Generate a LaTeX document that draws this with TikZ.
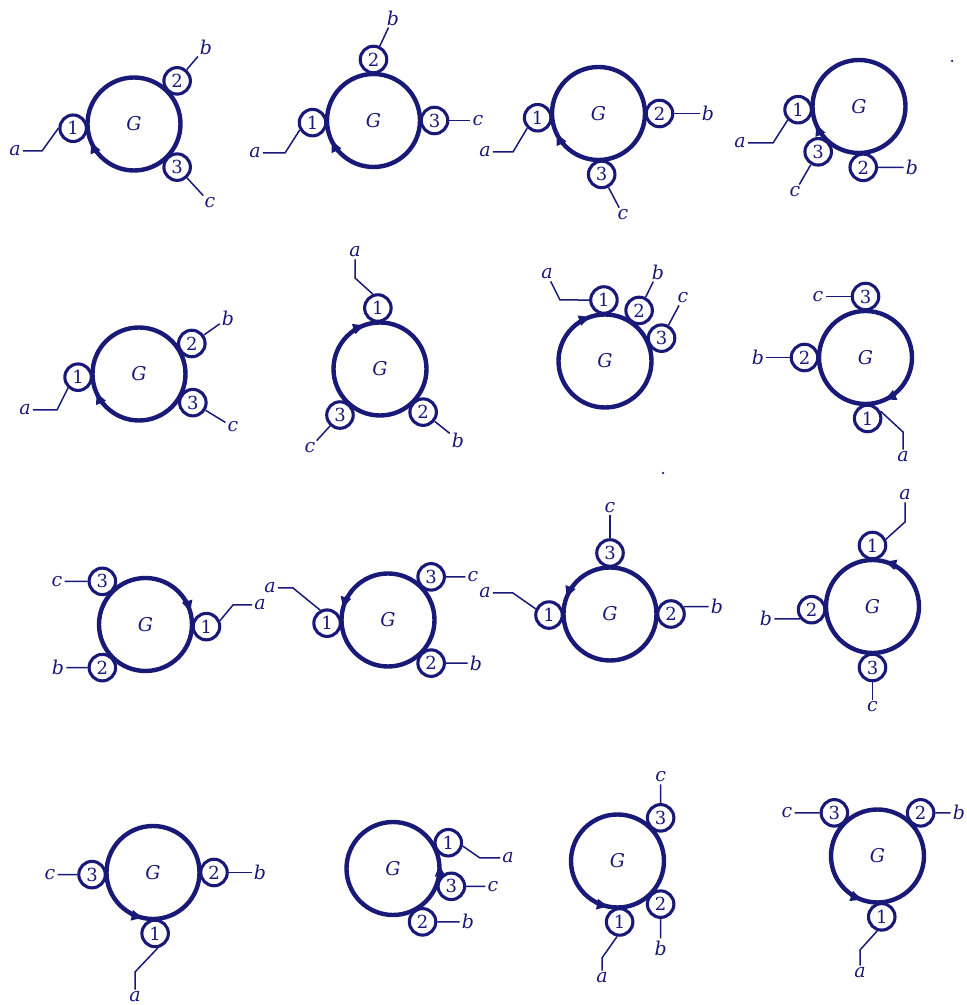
\documentclass[tikz,border=0pt]{standalone}
\usepackage{fontspec}
\setmainfont{DejaVu Serif}
\usetikzlibrary{arrows.meta}
\definecolor{ink}{RGB}{25,25,120}
\tikzset{
  bigc/.style={circle, draw=ink, line width=4.4pt, minimum size=93pt, inner sep=0pt, text=ink, font=\fontsize{19}{21}\selectfont\itshape},
  smallc/.style={circle, draw=ink, line width=3.1pt, fill=white, minimum size=26.5pt, inner sep=0pt, text=ink, font=\fontsize{18}{20}\selectfont},
  lead/.style={draw=ink, line width=1.5pt},
  lbl/.style={inner sep=2pt, text=ink, font=\fontsize{19}{21}\selectfont\itshape},
  orient/.style={draw=ink, line width=4.4pt, -{Triangle[length=11pt,width=10pt]}},
  speck/.style={circle, fill=ink, inner sep=0pt, minimum size=2.5pt},
}
\begin{document}
\begin{tikzpicture}[x=1pt,y=1pt]
\useasboundingbox (0,0) rectangle (967,1005);

% ---------- Panel 1
\node[bigc] (p1) at (134,881) {G};
\draw[orient] ([shift={(218:46.5)}]p1.center) arc[start angle=218,end angle=203,radius=46.5];
\node[smallc] (p1n1) at ([shift={(184:61)}]p1.center) {1};
\node[smallc] (p1n2) at ([shift={(45:61)}]p1.center) {2};
\node[smallc] (p1n3) at ([shift={(-45:61)}]p1.center) {3};
\node[lbl] (p1a) at (15,854) {a};
\node[lbl] (p1b) at (206,958) {b};
\node[lbl] (p1c) at (210,802) {c};
\coordinate (p1w) at (42,854);
\draw[lead] (p1n1.180) -- (p1w) -- (p1a);
\draw[lead] (p1n2) -- (p1b);
\draw[lead] (p1n3) -- (p1c);

% ---------- Panel 2
\node[bigc] (p2) at (373.5,884.5) {G};
\draw[orient] ([shift={(221:46.5)}]p2.center) arc[start angle=221,end angle=206,radius=46.5];
\node[smallc] (p2n1) at ([shift={(182:61)}]p2.center) {1};
\node[smallc] (p2n2) at ([shift={(90:61)}]p2.center) {2};
\node[smallc] (p2n3) at ([shift={(0:61)}]p2.center) {3};
\node[lbl] (p2a) at (255,852) {a};
\node[lbl] (p2b) at (393,987) {b};
\node[lbl] (p2c) at (478,884.5) {c};
\coordinate (p2w) at (285,852);
\draw[lead] (p2n1.210) -- (p2w) -- (p2a);
\draw[lead] (p2n2) -- (p2b);
\draw[lead] (p2n3) -- (p2c);

% ---------- Panel 3
\node[bigc] (p3) at (598.5,891.5) {G};
\draw[orient] ([shift={(221:46.5)}]p3.center) arc[start angle=221,end angle=206,radius=46.5];
\node[smallc] (p3n1) at ([shift={(184:61)}]p3.center) {1};
\node[smallc] (p3n2) at ([shift={(0:61)}]p3.center) {2};
\node[smallc] (p3n3) at ([shift={(-87:61)}]p3.center) {3};
\node[lbl] (p3a) at (485,853) {a};
\node[lbl] (p3b) at (708,891.5) {b};
\node[lbl] (p3c) at (623,790) {c};
\coordinate (p3w) at (513,853);
\draw[lead] (p3n1.225) -- (p3w) -- (p3a);
\draw[lead] (p3n2) -- (p3b);
\draw[lead] (p3n3) -- (p3c);

% ---------- Panel 4
\node[bigc] (p4) at (859,898.5) {G};
\draw[orient] ([shift={(217:46.5)}]p4.center) arc[start angle=217,end angle=203,radius=46.5];
\node[smallc] (p4n1) at ([shift={(183:61)}]p4.center) {1};
\node[smallc] (p4n3) at ([shift={(228:61)}]p4.center) {3};
\node[smallc] (p4n2) at ([shift={(-86:61)}]p4.center) {2};
\node[lbl] (p4a) at (740,862) {a};
\node[lbl] (p4b) at (912,837.6) {b};
\node[lbl] (p4c) at (795,813) {c};
\coordinate (p4w) at (773,862);
\draw[lead] (p4n1.225) -- (p4w) -- (p4a);
\draw[lead] (p4n2) -- (p4b);
\draw[lead] (p4n3) -- (p4c);
\node[speck] (s1) at (952,944) {};

% ---------- Panel 5
\node[bigc] (p5) at (139,631) {G};
\draw[orient] ([shift={(219:46.5)}]p5.center) arc[start angle=219,end angle=204,radius=46.5];
\node[smallc] (p5n1) at ([shift={(183:61)}]p5.center) {1};
\node[smallc] (p5n2) at ([shift={(30:61)}]p5.center) {2};
\node[smallc] (p5n3) at ([shift={(-28:61)}]p5.center) {3};
\node[lbl] (p5a) at (25,595) {a};
\node[lbl] (p5b) at (228,687) {b};
\node[lbl] (p5c) at (233,578) {c};
\coordinate (p5w) at (57,595);
\draw[lead] (p5n1.227) -- (p5w) -- (p5a);
\draw[lead] (p5n2) -- (p5b);
\draw[lead] (p5n3) -- (p5c);

% ---------- Panel 6
\node[bigc] (p6) at (380,636) {G};
\draw[orient] ([shift={(125:46.5)}]p6.center) arc[start angle=125,end angle=110,radius=46.5];
\node[smallc] (p6n1) at ([shift={(92:61)}]p6.center) {1};
\node[smallc] (p6n3) at ([shift={(229:61)}]p6.center) {3};
\node[smallc] (p6n2) at ([shift={(-45:61)}]p6.center) {2};
\node[lbl] (p6a) at (355,753) {a};
\node[lbl] (p6b) at (458,565) {b};
\node[lbl] (p6c) at (310,557) {c};
\coordinate (p6w) at (355,727);
\draw[lead] (p6n1.110) -- (p6w) -- (p6a);
\draw[lead] (p6n2) -- (p6b);
\draw[lead] (p6n3) -- (p6c);

% ---------- Panel 7
\node[bigc] (p7) at (605,644) {G};
\draw[orient] ([shift={(124:46.5)}]p7.center) arc[start angle=124,end angle=109,radius=46.5];
\node[smallc] (p7n1) at ([shift={(91:61)}]p7.center) {1};
\node[smallc] (p7n2) at ([shift={(56:61)}]p7.center) {2};
\node[smallc] (p7n3) at ([shift={(22:61)}]p7.center) {3};
\node[lbl] (p7a) at (547,731) {a};
\node[lbl] (p7b) at (658,733) {b};
\node[lbl] (p7c) at (683,707) {c};
\coordinate (p7w) at (560,705);
\draw[lead] (p7n1.west) -- (p7w) -- (p7a);
\draw[lead] (p7n2) -- (p7b);
\draw[lead] (p7n3) -- (p7c);

% ---------- Panel 8
\node[bigc] (p8) at (865.5,647.5) {G};
\draw[orient] ([shift={(-50:46.5)}]p8.center) arc[start angle=-50,end angle=-65,radius=46.5];
\node[smallc] (p8n3) at ([shift={(90:61)}]p8.center) {3};
\node[smallc] (p8n2) at ([shift={(180:61)}]p8.center) {2};
\node[smallc] (p8n1) at ([shift={(-88:61)}]p8.center) {1};
\node[lbl] (p8a) at (903,548) {a};
\node[lbl] (p8b) at (758,647.5) {b};
\node[lbl] (p8c) at (818,708.5) {c};
\coordinate (p8w) at (903,573);
\draw[lead] (p8n1.30) -- (p8w) -- (p8a);
\draw[lead] (p8n2) -- (p8b);
\draw[lead] (p8n3) -- (p8c);
\node[speck] (s2) at (663,532) {};

% ---------- Panel 9
\node[bigc] (p9) at (145.5,380.5) {G};
\draw[orient] ([shift={(31:46.5)}]p9.center) arc[start angle=31,end angle=16,radius=46.5];
\node[smallc] (p9n3) at ([shift={(135:61)}]p9.center) {3};
\node[smallc] (p9n2) at ([shift={(225:61)}]p9.center) {2};
\node[smallc] (p9n1) at ([shift={(-2:61)}]p9.center) {1};
\node[lbl] (p9a) at (260,400) {a};
\node[lbl] (p9b) at (58,337.4) {b};
\node[lbl] (p9c) at (57,423.6) {c};
\coordinate (p9w) at (233,400);
\draw[lead] (p9n1.24) -- (p9w) -- (p9a);
\draw[lead] (p9n2) -- (p9b);
\draw[lead] (p9n3) -- (p9c);

% ---------- Panel 10
\node[bigc] (p10) at (388,385) {G};
\draw[orient] ([shift={(150:46.5)}]p10.center) arc[start angle=150,end angle=165,radius=46.5];
\node[smallc] (p10n1) at ([shift={(183:61)}]p10.center) {1};
\node[smallc] (p10n3) at ([shift={(45:61)}]p10.center) {3};
\node[smallc] (p10n2) at ([shift={(-45:61)}]p10.center) {2};
\node[lbl] (p10a) at (270,417) {a};
\node[lbl] (p10b) at (476,341.9) {b};
\node[lbl] (p10c) at (473,428.1) {c};
\coordinate (p10w) at (293,417);
\draw[lead] (p10n1.118) -- (p10w) -- (p10a);
\draw[lead] (p10n2) -- (p10b);
\draw[lead] (p10n3) -- (p10c);

% ---------- Panel 11
\node[bigc] (p11) at (610,391) {G};
\draw[orient] ([shift={(144:46.5)}]p11.center) arc[start angle=144,end angle=159,radius=46.5];
\node[smallc] (p11n3) at ([shift={(90:61)}]p11.center) {3};
\node[smallc] (p11n1) at ([shift={(181:61)}]p11.center) {1};
\node[smallc] (p11n2) at ([shift={(0:61)}]p11.center) {2};
\node[lbl] (p11a) at (485,412) {a};
\node[lbl] (p11b) at (717,398.5) {b};
\node[lbl] (p11c) at (610,497) {c};
\coordinate (p11w) at (513,412);
\draw[lead] (p11n1.155) -- (p11w) -- (p11a);
\draw[lead] (p11n2.30) -- (p11b);
\draw[lead] (p11n3) -- (p11c);

% ---------- Panel 12
\node[bigc] (p12) at (872.5,398.5) {G};
\draw[orient] ([shift={(59:46.5)}]p12.center) arc[start angle=59,end angle=74,radius=46.5];
\node[smallc] (p12n1) at ([shift={(90:61)}]p12.center) {1};
\node[smallc] (p12n2) at ([shift={(183:61)}]p12.center) {2};
\node[smallc] (p12n3) at ([shift={(-90:61)}]p12.center) {3};
\node[lbl] (p12a) at (905,510) {a};
\node[lbl] (p12b) at (766,386.1) {b};
\node[lbl] (p12c) at (872.5,298) {c};
\coordinate (p12w) at (905,483);
\draw[lead] (p12n1.25) -- (p12w) -- (p12a);
\draw[lead] (p12n2.218) -- (p12b);
\draw[lead] (p12n3) -- (p12c);

% ---------- Panel 13
\node[bigc] (p13) at (153,132.5) {G};
\draw[orient] ([shift={(242:46.5)}]p13.center) arc[start angle=242,end angle=257,radius=46.5];
\node[smallc] (p13n3) at ([shift={(182:61)}]p13.center) {3};
\node[smallc] (p13n2) at ([shift={(0:61)}]p13.center) {2};
\node[smallc] (p13n1) at ([shift={(-88:61)}]p13.center) {1};
\node[lbl] (p13a) at (135,8) {a};
\node[lbl] (p13b) at (260,132.5) {b};
\node[lbl] (p13c) at (50,130.4) {c};
\coordinate (p13w) at (135,33);
\draw[lead] (p13n1.-80) -- (p13w) -- (p13a);
\draw[lead] (p13n2) -- (p13b);
\draw[lead] (p13n3) -- (p13c);

% ---------- Panel 14
\node[bigc] (p14) at (393,136.5) {G};
\draw[orient] ([shift={(-10:46.5)}]p14.center) arc[start angle=-10,end angle=4,radius=46.5];
\node[smallc] (p14n1) at ([shift={(25:61)}]p14.center) {1};
\node[smallc] (p14n3) at ([shift={(-17:61)}]p14.center) {3};
\node[smallc] (p14n2) at ([shift={(-61:61)}]p14.center) {2};
\node[lbl] (p14a) at (508,147) {a};
\node[lbl] (p14b) at (468,83.1) {b};
\node[lbl] (p14c) at (493,118.7) {c};
\coordinate (p14w) at (480,147);
\draw[lead] (p14n1.-13) -- (p14w) -- (p14a);
\draw[lead] (p14n2) -- (p14b);
\draw[lead] (p14n3) -- (p14c);

% ---------- Panel 15
\node[bigc] (p15) at (617.5,144) {G};
\draw[orient] ([shift={(243:46.5)}]p15.center) arc[start angle=243,end angle=258,radius=46.5];
\node[smallc] (p15n3) at ([shift={(45:61)}]p15.center) {3};
\node[smallc] (p15n2) at ([shift={(-45:61)}]p15.center) {2};
\node[smallc] (p15n1) at ([shift={(-88:61)}]p15.center) {1};
\node[lbl] (p15a) at (602,27) {a};
\node[lbl] (p15b) at (660.6,57) {b};
\node[lbl] (p15c) at (660.6,228) {c};
\coordinate (p15w) at (602,47);
\draw[lead] (p15n1.-100) -- (p15w) -- (p15a);
\draw[lead] (p15n2) -- (p15b);
\draw[lead] (p15n3) -- (p15c);

% ---------- Panel 16
\node[bigc] (p16) at (877.5,149) {G};
\draw[orient] ([shift={(235:46.5)}]p16.center) arc[start angle=235,end angle=250,radius=46.5];
\node[smallc] (p16n3) at ([shift={(135:61)}]p16.center) {3};
\node[smallc] (p16n2) at ([shift={(45:61)}]p16.center) {2};
\node[smallc] (p16n1) at ([shift={(-86:61)}]p16.center) {1};
\node[lbl] (p16a) at (860,32) {a};
\node[lbl] (p16b) at (959,192.1) {b};
\node[lbl] (p16c) at (787,192.1) {c};
\coordinate (p16w) at (860,55);
\draw[lead] (p16n1.252) -- (p16w) -- (p16a);
\draw[lead] (p16n2) -- (p16b);
\draw[lead] (p16n3) -- (p16c);
\end{tikzpicture}
\end{document}
